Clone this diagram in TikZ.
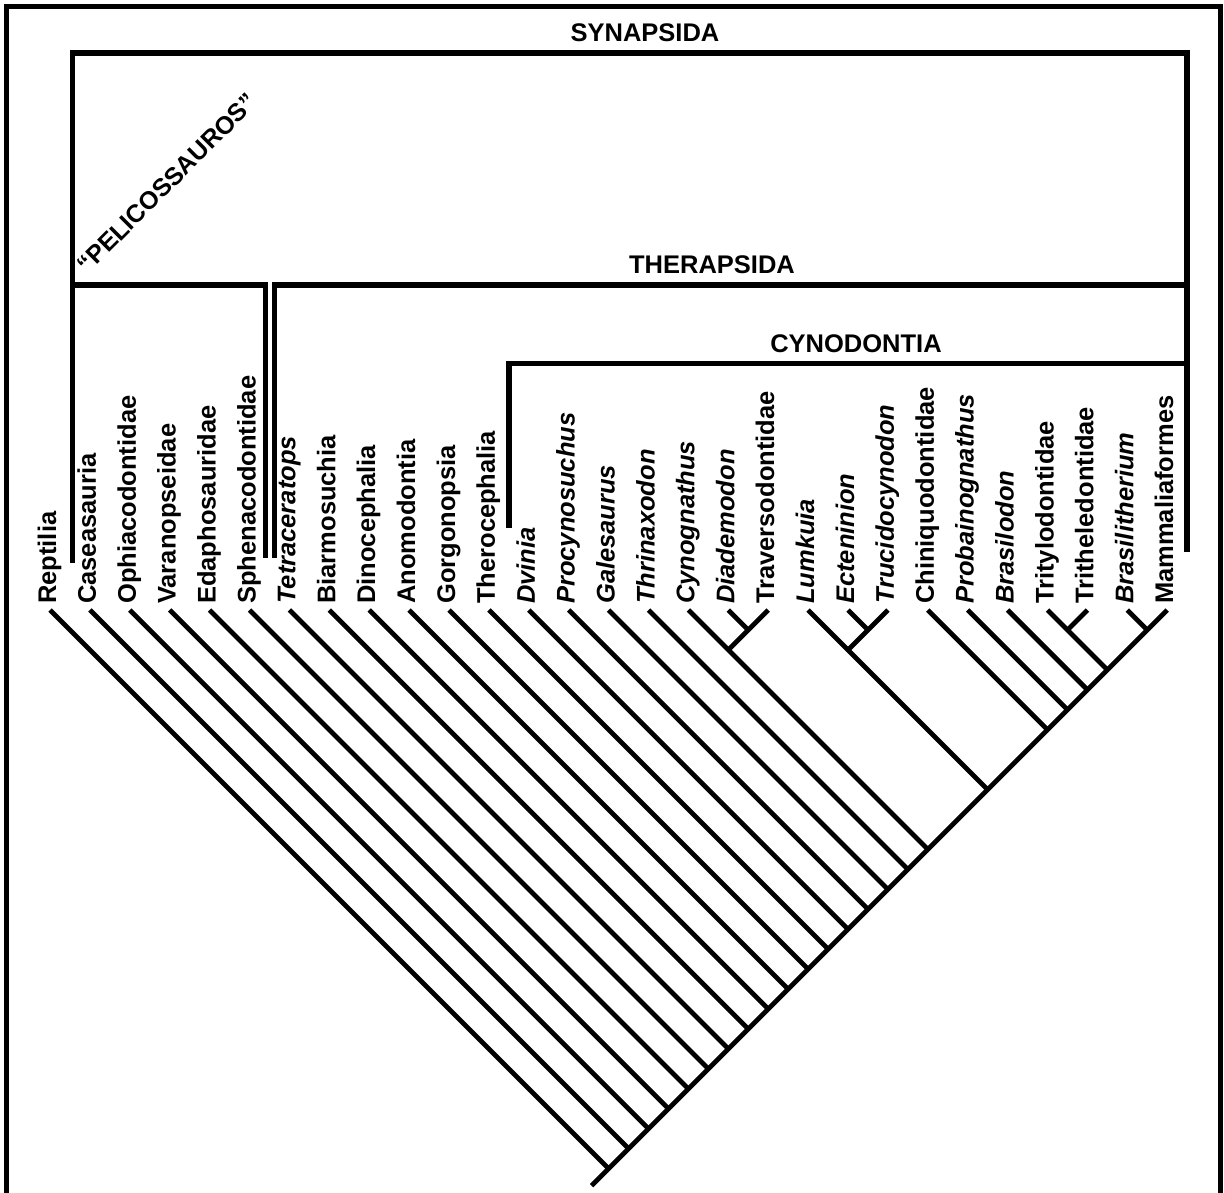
\documentclass[tikz,border=0pt]{standalone}
\usepackage{fontspec}
\setmainfont{Liberation Sans}
\begin{document}
\begin{tikzpicture}[x=1pt,y=-1pt,
  bar/.style={line width=5.5pt},
  branch/.style={line width=4.8pt},
  frameline/.style={line width=5pt},
  leaf/.style={rotate=90,anchor=base west,inner sep=0pt,font=\fontsize{25.5}{30}\selectfont\bfseries},
  leafit/.style={leaf,font=\fontsize{25.5}{30}\selectfont\bfseries\itshape},
  clade/.style={anchor=base,inner sep=0pt,font=\fontsize{25.5}{30}\selectfont\bfseries}]
\useasboundingbox (0,0) rectangle (1224,1193);
% frame (open at bottom)
\coordinate (fbl) at (6.5,1193);
\coordinate (ftl) at (6.5,7);
\coordinate (ftr) at (1220,7);
\coordinate (fbr) at (1220,1193);
\draw[frameline] (fbl) -- (ftl) -- (ftr) -- (fbr);
% leaves
\foreach \i/\nm/\st in {
0/Reptilia/leaf,1/Caseasauria/leaf,2/Ophiacodontidae/leaf,3/Varanopseidae/leaf,
4/Edaphosauridae/leaf,5/Sphenacodontidae/leaf,6/Tetraceratops/leafit,7/Biarmosuchia/leaf,
8/Dinocephalia/leaf,9/Anomodontia/leaf,10/Gorgonopsia/leaf,11/Therocephalia/leaf,
12/Dvinia/leafit,13/Procynosuchus/leafit,14/Galesaurus/leafit,15/Thrinaxodon/leafit,
16/Cynognathus/leafit,17/Diademodon/leafit,18/Traversodontidae/leaf,19/Lumkuia/leafit,
20/Ecteninion/leafit,21/Trucidocynodon/leafit,22/Chiniquodontidae/leaf,23/Probainognathus/leafit,
24/Brasilodon/leafit,25/Tritylodontidae/leaf,26/Tritheledontidae/leaf,27/Brasilitherium/leafit,
28/Mammaliaformes/leaf}
{
  \coordinate (t\i) at ({50+39.9*\i},610);
  \coordinate (b\i) at ({1167.2-19.95*(28-\i)},{610+19.95*(28-\i)});
  \node[\st] (l\i) at ({56+39.9*\i},604) {\nm};
}
% branches joining the backbone
\foreach \i in {0,1,2,3,4,5,6,7,8,9,10,11,12,13,14,15,16,19,22,23,24,25,27}
  \draw[branch] (t\i) -- (b\i);
% backbone and root stem
\coordinate (stem) at (591.6,1185.6);
\draw[branch] (t28) -- (b0) -- (stem);
% sub-clades
\coordinate (n17) at ({50+39.9*17+19.95},629.95);
\coordinate (n16) at ({50+39.9*16+39.9},649.9);
\coordinate (n20) at ({50+39.9*20+19.95},629.95);
\coordinate (n19) at ({50+39.9*19+39.9},649.9);
\coordinate (n25) at ({50+39.9*25+19.95},629.95);
\draw[branch] (t17) -- (n17);
\draw[branch] (t18) -- (n16);
\draw[branch] (t20) -- (n20);
\draw[branch] (t21) -- (n19);
\draw[branch] (t26) -- (n25);
% clade brackets
\coordinate (synB) at (72.5,563);
\coordinate (synTL) at (72.5,53);
\coordinate (synTR) at (1187,53);
\coordinate (synR) at (1187,552);
\draw[bar] (synB) -- (synTL) -- (synTR) -- (synR);
\coordinate (pelL) at (72.5,285);
\coordinate (pelC) at (265.5,285);
\coordinate (pelB) at (265.5,558);
\draw[bar] (pelL) -- (pelC) -- (pelB);
\coordinate (thB) at (274.5,558);
\coordinate (thC) at (274.5,285);
\coordinate (thR) at (1187,285);
\draw[bar] (thB) -- (thC) -- (thR);
\coordinate (cyB) at (509,528);
\coordinate (cyC) at (509,363.5);
\coordinate (cyR) at (1187,363.5);
\draw[bar] (cyB) -- (cyC) -- (cyR);
% clade labels
\node[clade] (syn) at (645,42) {SYNAPSIDA};
\node[clade] (ther) at (712,273) {THERAPSIDA};
\node[clade] (cyn) at (856,352) {CYNODONTIA};
\node[rotate=45,inner sep=0pt,font=\fontsize{25}{30}\selectfont\bfseries] (pel) at (167,183) {“PELICOSSAUROS”};
\end{tikzpicture}
\end{document}
